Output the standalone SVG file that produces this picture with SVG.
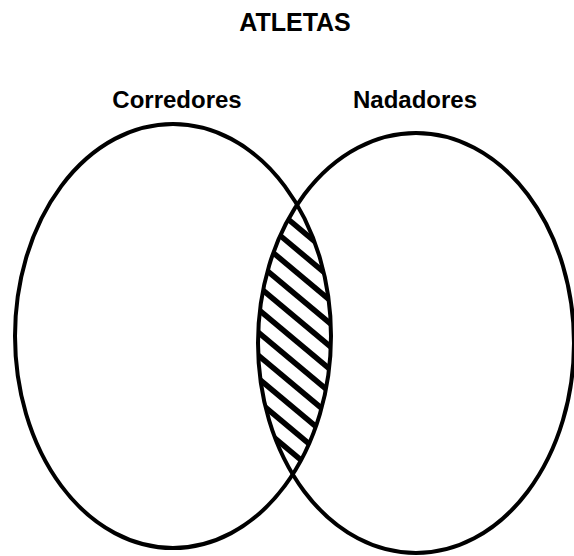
<svg xmlns="http://www.w3.org/2000/svg" width="574" height="556" viewBox="0 0 574 556">
<style>
.lbl{font-family:"Liberation Sans",Arial,sans-serif;font-weight:bold;font-size:24px;fill:#000;text-anchor:middle}
.set{fill:none;stroke:#000;stroke-width:4}
.hatch{stroke:#000;stroke-width:5.5}
</style>
<defs>
<clipPath id="clipL"><ellipse cx="173" cy="336" rx="158" ry="212"/></clipPath>
<clipPath id="clipR"><ellipse cx="416" cy="343" rx="158" ry="210"/></clipPath>
</defs>
<rect width="574" height="556" fill="#fff"/>
<text id="title" class="lbl" x="295" y="31" style="font-size:25px">ATLETAS</text>
<g id="intersection" clip-path="url(#clipL)">
<g clip-path="url(#clipR)">
<line class="hatch" x1="240" y1="156" x2="350" y2="248"/>
<line class="hatch" x1="240" y1="179" x2="350" y2="271"/>
<line class="hatch" x1="240" y1="202" x2="350" y2="294"/>
<line class="hatch" x1="240" y1="225" x2="350" y2="317"/>
<line class="hatch" x1="240" y1="248" x2="350" y2="340"/>
<line class="hatch" x1="240" y1="271" x2="350" y2="363"/>
<line class="hatch" x1="240" y1="294" x2="350" y2="386"/>
<line class="hatch" x1="240" y1="317" x2="350" y2="409"/>
<line class="hatch" x1="240" y1="340" x2="350" y2="432"/>
<line class="hatch" x1="240" y1="363" x2="350" y2="455"/>
<line class="hatch" x1="240" y1="386" x2="350" y2="478"/>
<line class="hatch" x1="240" y1="409" x2="350" y2="501"/>
<line class="hatch" x1="240" y1="432" x2="350" y2="524"/>
</g>
</g>
<g id="corredores">
<ellipse class="set" cx="173" cy="336" rx="158" ry="212"/>
<text class="lbl" x="177" y="108">Corredores</text>
</g>
<g id="nadadores">
<ellipse class="set" cx="416" cy="343" rx="158" ry="210"/>
<text class="lbl" x="415" y="108">Nadadores</text>
</g>
<g id="connectors"/>
</svg>
